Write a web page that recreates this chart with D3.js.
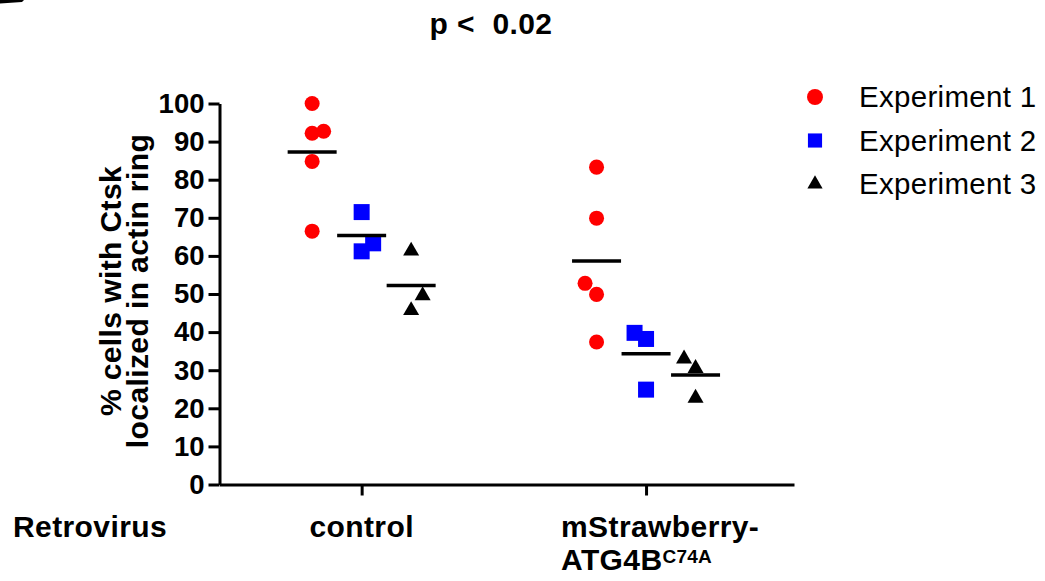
<!DOCTYPE html>
<html>
<head>
<meta charset="utf-8">
<script src="https://cdn.jsdelivr.net/npm/d3@7"></script>
<style>
  body { margin: 0; background: #fff; }
  svg { display: block; font-family: "Liberation Sans", Arial, sans-serif; }
  .lbl { font-weight: bold; font-size: 30px; letter-spacing: 0.4px; }
  .axis text { font-weight: bold; font-size: 27.5px; font-family: "Liberation Sans", Arial, sans-serif; }
  .axis path, .axis line { stroke: #000; stroke-width: 3px; }
</style>
</head>
<body>
<svg width="1045" height="581"></svg>
<script>
// values
var categories = ["control", "mStrawberry-ATG4B"],
    experiments = ["Experiment 1", "Experiment 2", "Experiment 3"],
    colors = ["#ff0000", "#0000ff", "#000000"];

var exp1 = [[100, 92.2, 92.7, 84.8, 66.5], [83.3, 69.9, 52.8, 49.9, 37.4]],
    exp2 = [[71.5, 63.3, 61.2], [39.8, 38.2, 24.9]],
    exp3 = [[61.3, 49.6, 45.7], [33.0, 30.5, 22.7]];

var yTicks = [0, 10, 20, 30, 40, 50, 60, 70, 80, 90, 100];

var svg = d3.select("svg"),
    margin = {top: 103.5, left: 219.5, right: 251, bottom: 96.5},
    width = +svg.attr("width") - margin.left - margin.right,
    height = +svg.attr("height") - margin.top - margin.bottom;

var x = d3.scalePoint().domain(categories).range([0, width]).padding(0.51).align(0.49),
    xSub = d3.scalePoint().domain(experiments).range([-49.5, 49.5]),
    y = d3.scaleLinear().domain([0, 100]).range([height, 0]);

var symbols = [d3.symbolCircle, d3.symbolSquare, d3.symbolTriangle],
    sizes = [177, 256, 111];

// edge of the cut-off panel letter in the corner
svg.append("path")
    .attr("d", "M0,0 L24,0 L22,2 L0,3.5 Z")
    .attr("fill", "#000");

svg.append("text")
    .attr("class", "lbl")
    .attr("x", 491).attr("y", 34)
    .attr("text-anchor", "middle")
    .style("white-space", "pre")
    .text("p <  0.02");

var g = svg.append("g")
    .attr("transform", "translate(" + margin.left + "," + margin.top + ")");

g.append("g")
    .attr("class", "axis")
    .call(d3.axisLeft(y).tickValues(yTicks).tickSize(11).tickSizeOuter(0).tickPadding(4));

g.append("g")
    .attr("class", "axis")
    .attr("transform", "translate(0," + height + ")")
    .call(d3.axisBottom(x).tickSize(11).tickSizeOuter(0).tickFormat(""));

// y title, two lines
var yt = svg.append("text")
    .attr("class", "lbl")
    .attr("transform", "translate(121," + (margin.top + height / 2 - 3) + ") rotate(-90)")
    .attr("text-anchor", "middle");
yt.append("tspan").attr("x", 0).attr("dy", 0).text("% cells with Ctsk");
yt.append("tspan").attr("x", 0).attr("dy", 27).text("localized in actin ring");

// x labels
svg.append("text").attr("class", "lbl")
    .attr("x", 13).attr("y", 537).text("Retrovirus");

svg.append("text").attr("class", "lbl")
    .attr("x", margin.left + x(categories[0])).attr("y", 537)
    .attr("text-anchor", "middle").text("control");

var t2 = svg.append("text").attr("class", "lbl")
    .attr("x", margin.left + x(categories[1]) - 85).attr("y", 537);
t2.append("tspan").text("mStrawberry-");
t2.append("tspan").attr("x", margin.left + x(categories[1]) - 85).attr("dy", 33).text("ATG4B");
t2.append("tspan").attr("dy", -7).style("font-size", "19px").style("letter-spacing", "0.2px").text("C74A");

// points with a simple dodge for overlapping markers
var series = [exp1, exp2, exp3];
var dodgeDir = [1, -1];

series.forEach(function(s, si) {
    s.forEach(function(vals, ci) {
        var cx = x(categories[ci]) + xSub(experiments[si]);
        var sorted = vals.slice().sort(d3.ascending);
        var placed = [];
        sorted.forEach(function(v) {
            var off = 0;
            var prev = placed[placed.length - 1];
            if (prev && prev.off === 0 && Math.abs(y(v) - y(prev.v)) < 16) off = 11.5 * dodgeDir[ci];
            placed.push({v: v, off: off});
        });

        g.selectAll(null)
            .data(placed)
            .enter().append("path")
            .attr("d", d3.symbol().type(symbols[si]).size(sizes[si]))
            .attr("transform", function(d) { return "translate(" + (cx + d.off) + "," + y(d.v) + ")"; })
            .attr("fill", colors[si]);

        g.append("line")
            .attr("x1", cx - 24.5).attr("x2", cx + 24.5)
            .attr("y1", y(d3.mean(vals))).attr("y2", y(d3.mean(vals)))
            .attr("stroke", "#000").attr("stroke-width", 3.5);
    });
});

// legend
var leg = svg.append("g").attr("transform", "translate(815,97)");
experiments.forEach(function(e, i) {
    leg.append("path")
        .attr("d", d3.symbol().type(symbols[i]).size(i === 2 ? 100 : 200))
        .attr("transform", "translate(0," + (i * 43.5) + ")")
        .attr("fill", colors[i]);
    leg.append("text")
        .attr("x", 44).attr("y", i * 43.5 + 10)
        .style("font-size", "29.5px").style("letter-spacing", "0.3px")
        .text(e);
});
</script>
</body>
</html>
